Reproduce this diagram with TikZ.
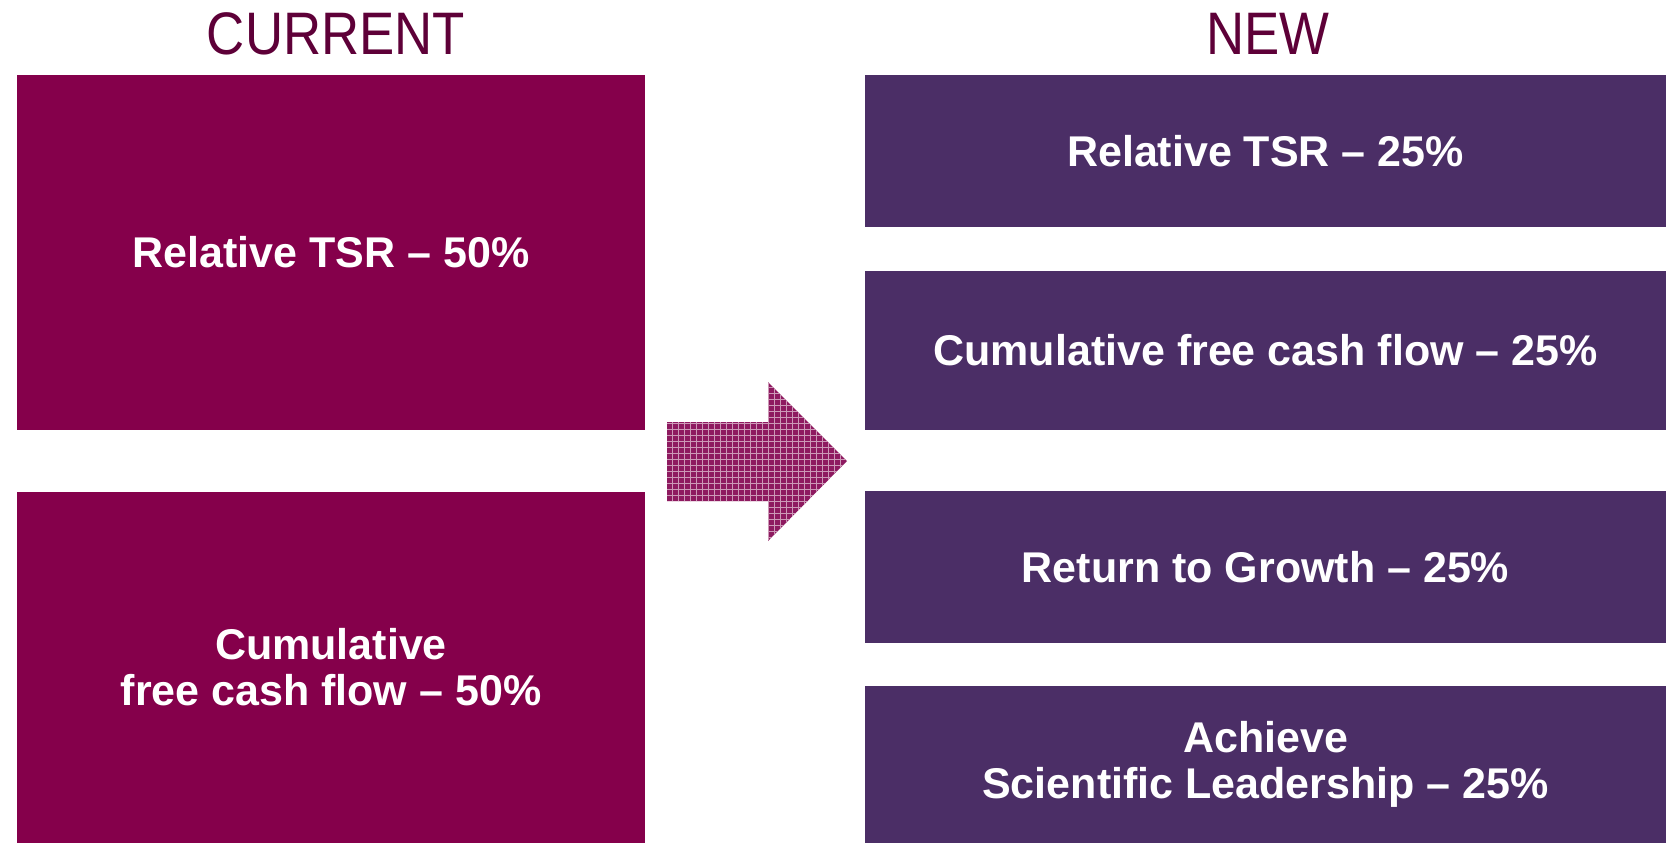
\documentclass[tikz,border=0pt]{standalone}
\usepackage{fontspec}
\setmainfont{Liberation Sans}
\newfontfamily\headfont[FakeStretch=0.88]{Liberation Sans}
\usetikzlibrary{patterns}

\definecolor{oldfill}{HTML}{85004B}
\definecolor{newfill}{HTML}{4B2E66}
\definecolor{headtext}{HTML}{5E0038}
\definecolor{arrowfill}{HTML}{8E1A60}

\tikzset{
    head/.style={text=headtext, inner sep=0pt,
	font=\headfont\fontsize{30}{30}\selectfont},
    part/.style={inner sep=0pt, text=white, align=center,
	font=\bfseries\fontsize{21.5}{23}\selectfont},
    oldpart/.style={part, fill=oldfill, minimum width=314pt},
    newpart/.style={part, fill=newfill, minimum width=400.5pt},
    bigarrow/.style={fill=arrowfill,
	postaction={pattern=grid, pattern color=white!55!arrowfill}}
}

\begin{document}
\begin{tikzpicture}[x=0.5pt, y=-0.5pt]
    \useasboundingbox (0, 0) rectangle (1666, 843);

    \path (336, 34) node [head] (cur) {CURRENT};
    \path (1268, 34) node [head] (new) {NEW};

    \path (331, 252.5) node [oldpart, minimum height=177.5pt] (tsr)
	{Relative TSR -- 50\%};
    \path (331, 667.5) node [oldpart, minimum height=175.5pt] (fcf)
	{Cumulative\\free cash flow -- 50\%};

    \path (1265.5, 151) node [newpart, minimum height=76pt] (tsr1)
	{Relative TSR -- 25\%};
    \path (1265.5, 350.5) node [newpart, minimum height=79.5pt] (fcf1)
	{Cumulative free cash flow -- 25\%};
    \path (1265.5, 567) node [newpart, minimum height=76pt] (rtg1)
	{Return to Growth -- 25\%};
    \path (1265.5, 764.5) node [newpart, minimum height=78.5pt] (lead1)
	{Achieve\\Scientific Leadership -- 25\%};

    \fill [bigarrow] (667, 422) -- (768, 422) -- (768, 382) -- (847, 461)
	-- (768, 541) -- (768, 501) -- (667, 501) -- cycle;
\end{tikzpicture}
\end{document}
